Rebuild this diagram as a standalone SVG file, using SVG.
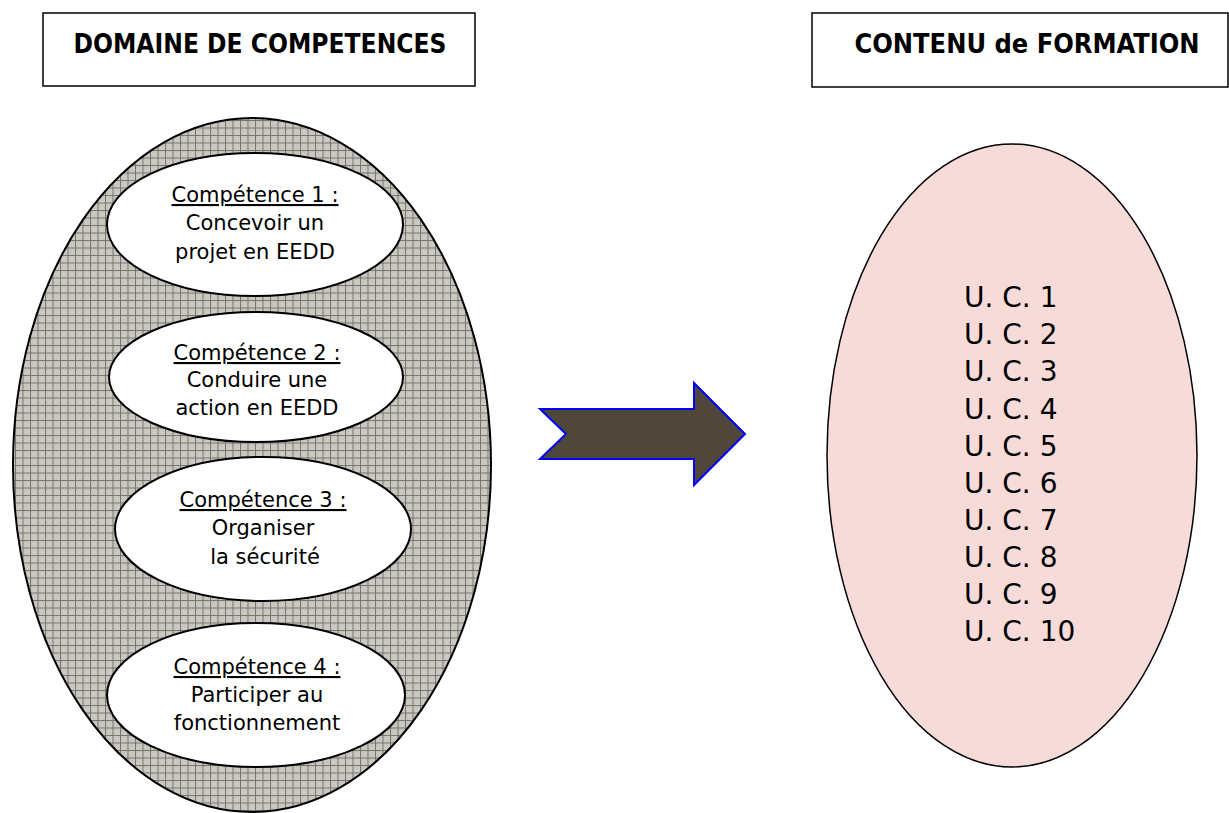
<svg xmlns="http://www.w3.org/2000/svg" width="1229" height="813" viewBox="0 0 1229 813">
<style>
.box{fill:#fff;stroke:#000;stroke-width:1.5}
.title{font-family:"DejaVu Sans Condensed","DejaVu Sans",sans-serif;font-weight:bold;font-size:26px;fill:#000;text-anchor:middle}
.inner{fill:#fff;stroke:#000;stroke-width:2}
.t{font-family:"DejaVu Sans",sans-serif;font-size:21px;fill:#000;text-anchor:middle}
.u{text-decoration:underline}
.uc{font-family:"DejaVu Sans",sans-serif;font-size:28px;fill:#000}
</style>
<defs>
<pattern id="chk" width="2" height="2" patternUnits="userSpaceOnUse">
<rect width="2" height="2" fill="#e8e6e2"/>
<rect width="1" height="1" fill="#aeaaa2"/>
<rect x="1" y="1" width="1" height="1" fill="#aeaaa2"/>
</pattern>
<pattern id="grid" width="7.5" height="7.5" patternUnits="userSpaceOnUse">
<rect width="7.5" height="7.5" fill="url(#chk)"/>
<rect x="0" y="0" width="7.5" height="1" fill="#77726a"/>
<rect x="0" y="0" width="1" height="7.5" fill="#77726a"/>
</pattern>
</defs>
<rect width="1229" height="813" fill="#fff"/>
<g id="title-domaine">
<rect class="box" x="43" y="13" width="432" height="73"/>
<text class="title" x="260" y="53" textLength="373" lengthAdjust="spacingAndGlyphs">DOMAINE DE COMPETENCES</text>
</g>
<g id="title-contenu">
<rect class="box" x="812" y="13" width="416" height="74"/>
<text class="title" x="1027" y="53" textLength="345" lengthAdjust="spacingAndGlyphs">CONTENU de FORMATION</text>
</g>
<g id="domaine">
<ellipse cx="252" cy="465" rx="239" ry="347" fill="url(#grid)" stroke="#000" stroke-width="2"/>
</g>
<g id="competence1">
<ellipse class="inner" cx="255" cy="224.5" rx="148" ry="71.5"/>
<text class="t" x="255" y="202"><tspan class="u">Compétence 1 :</tspan></text>
<text class="t" x="255" y="230">Concevoir un</text>
<text class="t" x="255" y="259">projet en EEDD</text>
</g>
<g id="competence2">
<ellipse class="inner" cx="256" cy="377" rx="147" ry="65"/>
<text class="t" x="257" y="360"><tspan class="u">Compétence 2 :</tspan></text>
<text class="t" x="257" y="387">Conduire une</text>
<text class="t" x="257" y="415">action en EEDD</text>
</g>
<g id="competence3">
<ellipse class="inner" cx="263" cy="529" rx="148" ry="72"/>
<text class="t" x="263" y="507"><tspan class="u">Compétence 3 :</tspan></text>
<text class="t" x="263" y="535">Organiser</text>
<text class="t" x="265" y="564">la sécurité</text>
</g>
<g id="competence4">
<ellipse class="inner" cx="256" cy="695" rx="149" ry="72"/>
<text class="t" x="257" y="674"><tspan class="u">Compétence 4 :</tspan></text>
<text class="t" x="257" y="702">Participer au</text>
<text class="t" x="257" y="730">fonctionnement</text>
</g>
<g id="connectors">
<polygon points="540,409 694,409 694,383 745,434 694,485 694,459 540,459 566,434" fill="#4f473b" stroke="#0000ff" stroke-width="2"/>
</g>
<g id="contenu">
<ellipse cx="1012" cy="455.5" rx="185" ry="311.5" fill="#f6dbd8" stroke="#000" stroke-width="1.5"/>
<text class="uc" x="964" y="307">U. C. 1</text>
<text class="uc" x="964" y="344">U. C. 2</text>
<text class="uc" x="964" y="381">U. C. 3</text>
<text class="uc" x="964" y="419">U. C. 4</text>
<text class="uc" x="964" y="456">U. C. 5</text>
<text class="uc" x="964" y="493">U. C. 6</text>
<text class="uc" x="964" y="530">U. C. 7</text>
<text class="uc" x="964" y="567">U. C. 8</text>
<text class="uc" x="964" y="604">U. C. 9</text>
<text class="uc" x="964" y="641">U. C. 10</text>
</g>
</svg>
